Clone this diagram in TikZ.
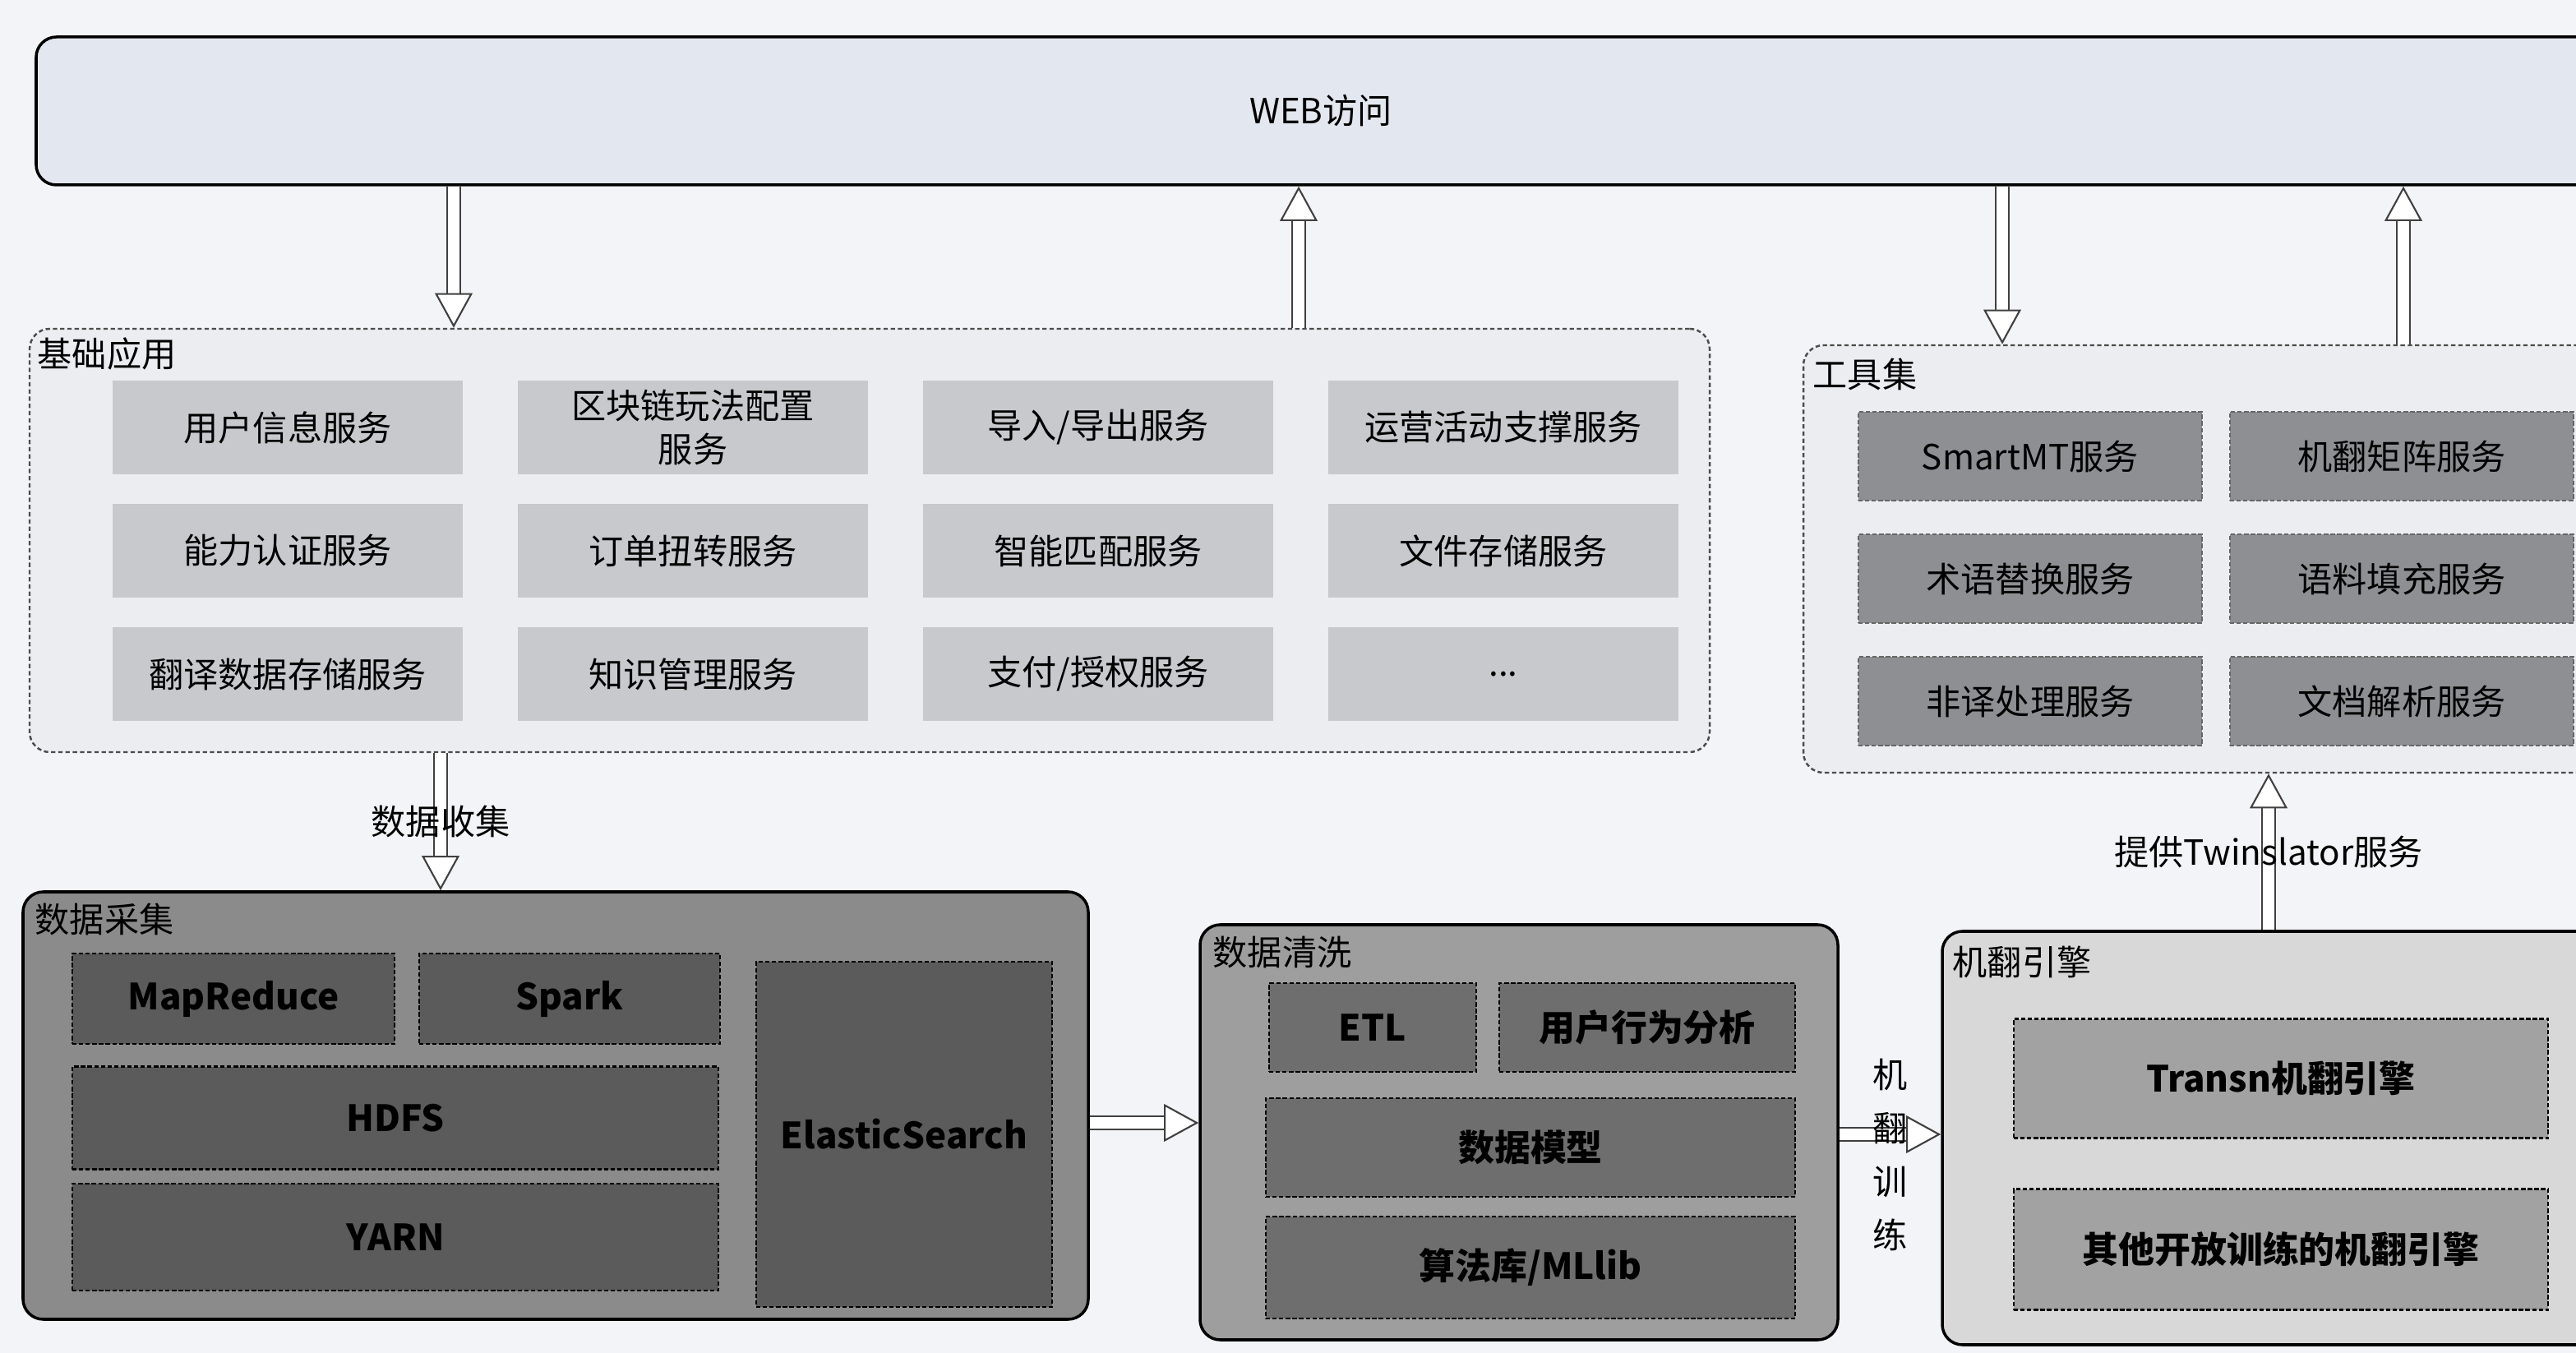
\documentclass[tikz,border=0pt]{standalone}
\usepackage{fontspec}
\setmainfont{Noto Sans CJK SC}
\usetikzlibrary{arrows.meta}

\definecolor{fondo}{HTML}{F3F4F7}
\definecolor{grisweb}{HTML}{E3E7EF}
\definecolor{grisclaro}{HTML}{ECEDF1}
\definecolor{grisbase}{HTML}{C8C9CD}
\definecolor{grisherr}{HTML}{8E8F93}
\definecolor{griscol}{HTML}{8B8B8B}
\definecolor{griscolin}{HTML}{5B5B5B}
\definecolor{grislim}{HTML}{9E9E9E}
\definecolor{grislimin}{HTML}{6E6E6E}
\definecolor{grismot}{HTML}{D8D8D8}
\definecolor{grismotin}{HTML}{A2A2A2}

\tikzset{
  marco/.style={draw=black, line width=1pt, rounded corners=7pt},
  marcopunteado/.style={draw=black!70, line width=0.7pt, dash pattern=on 1.5pt off 1pt, rounded corners=7pt},
  servicio/.style={fill=grisbase, inner sep=0pt, align=center, minimum width=4.26cm, minimum height=1.14cm},
  herramienta/.style={fill=grisherr, draw=black!60, dash pattern=on 1.5pt off 0.8pt, inner sep=0pt, minimum width=4.18cm, minimum height=1.08cm},
  modulo/.style={draw=black, line width=0.8pt, dash pattern=on 1.5pt off 0.8pt, inner sep=0pt, align=center, font=\fontsize{12.5}{15}\selectfont\bfseries},
  titulo/.style={anchor=north west, inner sep=0pt},
  hueca/.style={draw=black!75, line width=0.6pt, double=white, double distance=4pt,
    -{Triangle[open, fill=white, length=12pt, width=13pt]}}
}

\begin{document}
\begin{tikzpicture}[font=\fontsize{12}{15}\selectfont]
  \path[use as bounding box, fill=fondo] (0,0) rectangle (31.34,-16.46);

  % Acceso web
  \node[marco, fill=grisweb, minimum width=31.26cm, minimum height=1.8cm] (web) at (16.07,-1.35) {WEB访问};

  % Aplicaciones basicas
  \node[marcopunteado, fill=grisclaro, minimum width=20.44cm, minimum height=5.15cm] (base) at (10.58,-6.575) {};
  \node[titulo] at (0.45,-4.1) {基础应用};
  \foreach \txt [count=\i from 0] in {用户信息服务, {区块链玩法配置\\服务}, 导入/导出服务, 运营活动支撑服务,
      能力认证服务, 订单扭转服务, 智能匹配服务, 文件存储服务,
      翻译数据存储服务, 知识管理服务, 支付/授权服务, {.{}.{}.}}
  {
    \pgfmathtruncatemacro\col{mod(\i,4)}
    \pgfmathtruncatemacro\fila{int(\i/4)}
    \node[servicio] (b\i) at (3.5+4.93*\col,-5.2-1.5*\fila) {\txt};
  }

  % Conjunto de herramientas
  \node[marcopunteado, fill=grisclaro, minimum width=9.76cm, minimum height=5.2cm] (herr) at (26.82,-6.8) {};
  \node[titulo] at (22.05,-4.35) {工具集};
  \foreach \txt [count=\i from 0] in {SmartMT服务, 机翻矩阵服务, 术语替换服务, 语料填充服务, 非译处理服务, 文档解析服务}
  {
    \pgfmathtruncatemacro\col{mod(\i,2)}
    \pgfmathtruncatemacro\fila{int(\i/2)}
    \node[herramienta] (h\i) at (24.7+4.52*\col,-5.55-1.49*\fila) {\txt};
  }

  % Recogida de datos
  \node[marco, fill=griscol, minimum width=12.96cm, minimum height=5.2cm] (colecta) at (6.76,-13.45) {};
  \node[titulo] at (0.42,-10.98) {数据采集};
  \node[modulo, fill=griscolin, minimum width=3.92cm, minimum height=1.1cm] (mapred) at (2.84,-12.15) {MapReduce};
  \node[modulo, fill=griscolin, minimum width=3.66cm, minimum height=1.1cm] (spark) at (6.93,-12.15) {Spark};
  \node[modulo, fill=griscolin, minimum width=7.86cm, minimum height=1.25cm] (hdfs) at (4.81,-13.6) {HDFS};
  \node[modulo, fill=griscolin, minimum width=7.86cm, minimum height=1.3cm] (yarn) at (4.81,-15.05) {YARN};
  \node[modulo, fill=griscolin, minimum width=3.6cm, minimum height=4.2cm] (elastic) at (11.0,-13.8) {ElasticSearch};

  % Limpieza de datos
  \node[marco, fill=grislim, minimum width=7.76cm, minimum height=5.05cm] (limpia) at (18.48,-13.775) {};
  \node[titulo] at (14.75,-11.38) {数据清洗};
  \node[modulo, fill=grislimin, minimum width=2.52cm, minimum height=1.08cm] (etl) at (16.7,-12.5) {ETL};
  \node[modulo, fill=grislimin, minimum width=3.6cm, minimum height=1.08cm] (conducta) at (20.04,-12.5) {用户行为分析};
  \node[modulo, fill=grislimin, minimum width=6.44cm, minimum height=1.2cm] (modelo) at (18.62,-13.96) {数据模型};
  \node[modulo, fill=grislimin, minimum width=6.44cm, minimum height=1.24cm] (mllib) at (18.62,-15.42) {算法库/MLlib};

  % Motor de traduccion automatica
  \node[marco, fill=grismot, minimum width=8.07cm, minimum height=5.03cm] (motor) at (27.665,-13.845) {};
  \node[titulo] at (23.75,-11.5) {机翻引擎};
  \node[modulo, fill=grismotin, minimum width=6.5cm, minimum height=1.45cm] (transn) at (27.75,-13.12) {Transn机翻引擎};
  \node[modulo, fill=grismotin, minimum width=6.5cm, minimum height=1.47cm] (otros) at (27.75,-15.2) {其他开放训练的机翻引擎};

  % Flechas huecas
  \coordinate (x1) at (5.52,0);
  \coordinate (x2) at (15.8,0);
  \coordinate (x3) at (24.36,0);
  \coordinate (x4) at (29.24,0);
  \coordinate (x5) at (5.36,0);
  \coordinate (x6) at (27.6,0);
  \coordinate (y1) at (0,-13.66);
  \coordinate (y2) at (0,-13.8);
  \draw[hueca] (web.south -| x1) -- (base.north -| x1);
  \draw[hueca] (base.north -| x2) -- (web.south -| x2);
  \draw[hueca] (web.south -| x3) -- (herr.north -| x3);
  \draw[hueca] (herr.north -| x4) -- (web.south -| x4);
  \draw[hueca] (base.south -| x5) -- (colecta.north -| x5) node[midway] {数据收集};
  \draw[hueca] (colecta.east |- y1) -- (limpia.west |- y1);
  \draw[hueca] (limpia.east |- y2) -- (motor.west |- y2)
    node[midway, yshift=-0.25cm, align=center, font=\fontsize{12}{18.5}\selectfont] {机\\翻\\训\\练};
  \draw[hueca] (motor.north -| x6) -- (herr.south -| x6) node[midway] {提供Twinslator服务};
\end{tikzpicture}
\end{document}
